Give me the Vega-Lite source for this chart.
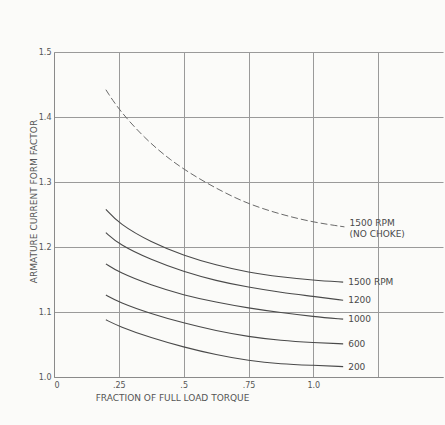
{
  "$schema": "https://vega.github.io/schema/vega-lite/v6.json",
  "width": 389,
  "height": 325,
  "autosize": {"type": "none"},
  "padding": {"left": 54, "top": 52, "right": 2, "bottom": 48},
  "background": "#fbfbf9",
  "config": {
    "view": {"stroke": null},
    "font": "DejaVu Sans",
    "axis": {"gridColor": "#9a9a9a", "gridOpacity": 1, "gridWidth": 1, "domainColor": "#8a8a8a", "ticks": false, "labelColor": "#555", "titleColor": "#555", "labelFont": "DejaVu Sans", "titleFont": "DejaVu Sans", "titleFontWeight": "normal"}
  },
  "datasets": {
    "curves": [
      {"series": "NC", "x": 0.2, "y": 1.442}, {"series": "NC", "x": 0.25, "y": 1.411}, {"series": "NC", "x": 0.35, "y": 1.367}, {"series": "NC", "x": 0.45, "y": 1.333}, {"series": "NC", "x": 0.55, "y": 1.307}, {"series": "NC", "x": 0.65, "y": 1.285}, {"series": "NC", "x": 0.75, "y": 1.266}, {"series": "NC", "x": 0.875, "y": 1.25}, {"series": "NC", "x": 1.0, "y": 1.238}, {"series": "NC", "x": 1.12, "y": 1.231},
      {"series": "1500", "x": 0.2, "y": 1.258}, {"series": "1500", "x": 0.25, "y": 1.236}, {"series": "1500", "x": 0.375, "y": 1.207}, {"series": "1500", "x": 0.5, "y": 1.187}, {"series": "1500", "x": 0.625, "y": 1.172}, {"series": "1500", "x": 0.75, "y": 1.161}, {"series": "1500", "x": 0.875, "y": 1.154}, {"series": "1500", "x": 1.0, "y": 1.149}, {"series": "1500", "x": 1.115, "y": 1.146},
      {"series": "1200", "x": 0.2, "y": 1.222}, {"series": "1200", "x": 0.25, "y": 1.204}, {"series": "1200", "x": 0.375, "y": 1.18}, {"series": "1200", "x": 0.5, "y": 1.162}, {"series": "1200", "x": 0.625, "y": 1.148}, {"series": "1200", "x": 0.75, "y": 1.138}, {"series": "1200", "x": 0.875, "y": 1.13}, {"series": "1200", "x": 1.0, "y": 1.124}, {"series": "1200", "x": 1.115, "y": 1.118},
      {"series": "1000", "x": 0.2, "y": 1.174}, {"series": "1000", "x": 0.25, "y": 1.161}, {"series": "1000", "x": 0.375, "y": 1.141}, {"series": "1000", "x": 0.5, "y": 1.126}, {"series": "1000", "x": 0.625, "y": 1.115}, {"series": "1000", "x": 0.75, "y": 1.106}, {"series": "1000", "x": 0.875, "y": 1.099}, {"series": "1000", "x": 1.0, "y": 1.093}, {"series": "1000", "x": 1.115, "y": 1.089},
      {"series": "600", "x": 0.2, "y": 1.126}, {"series": "600", "x": 0.25, "y": 1.115}, {"series": "600", "x": 0.375, "y": 1.097}, {"series": "600", "x": 0.5, "y": 1.083}, {"series": "600", "x": 0.625, "y": 1.071}, {"series": "600", "x": 0.75, "y": 1.062}, {"series": "600", "x": 0.875, "y": 1.056}, {"series": "600", "x": 1.0, "y": 1.053}, {"series": "600", "x": 1.115, "y": 1.051},
      {"series": "200", "x": 0.2, "y": 1.088}, {"series": "200", "x": 0.25, "y": 1.078}, {"series": "200", "x": 0.375, "y": 1.06}, {"series": "200", "x": 0.5, "y": 1.046}, {"series": "200", "x": 0.625, "y": 1.034}, {"series": "200", "x": 0.75, "y": 1.025}, {"series": "200", "x": 0.875, "y": 1.02}, {"series": "200", "x": 1.0, "y": 1.018}, {"series": "200", "x": 1.115, "y": 1.016}
    ],
    "labels": [
      {"label": "1500 RPM\n(NO CHOKE)", "x": 1.12, "y": 1.237},
      {"label": "1500 RPM", "x": 1.115, "y": 1.146},
      {"label": "1200", "x": 1.115, "y": 1.118},
      {"label": "1000", "x": 1.115, "y": 1.089},
      {"label": "600", "x": 1.115, "y": 1.051},
      {"label": "200", "x": 1.115, "y": 1.016}
    ]
  },
  "layer": [
    {
      "data": {"name": "curves"},
      "transform": [{"filter": "datum.series != 'NC'"}],
      "mark": {"type": "line", "interpolate": "basis", "color": "#4a4a4a", "strokeWidth": 1.1},
      "encoding": {
        "x": {"field": "x", "type": "quantitative", "scale": {"domain": [0, 1.5], "nice": false, "zero": false},
          "axis": {"values": [0, 0.25, 0.5, 0.75, 1.0, 1.25], "grid": true, "labelExpr": "datum.value == 0 ? '0' : datum.value == 0.25 ? '.25' : datum.value == 0.5 ? '.5' : datum.value == 0.75 ? '.75' : datum.value == 1 ? '1.0' : ''", "labelFontSize": 8, "labelPadding": 4,
            "title": "FRACTION OF FULL LOAD TORQUE", "titleFontSize": 9, "titleX": 118, "titleY": 20, "titleAnchor": null, "titleAlign": "center", "titleBaseline": "middle"}},
        "y": {"field": "y", "type": "quantitative", "scale": {"domain": [1.0, 1.5], "nice": false, "zero": false},
          "axis": {"values": [1.0, 1.1, 1.2, 1.3, 1.4, 1.5], "format": ".1f", "grid": true, "labelFontSize": 8, "labelPadding": 3,
            "title": "ARMATURE CURRENT FORM FACTOR", "titleFontSize": 9, "titleX": -21, "titleY": 149, "titleAngle": -90, "titleAlign": "center", "titleBaseline": "middle"}},
        "detail": {"field": "series"}
      }
    },
    {
      "data": {"name": "curves"},
      "transform": [{"filter": "datum.series == 'NC'"}],
      "mark": {"type": "line", "interpolate": "basis", "color": "#6a6a6a", "strokeWidth": 1, "strokeDash": [7, 3]},
      "encoding": {
        "x": {"field": "x", "type": "quantitative"},
        "y": {"field": "y", "type": "quantitative"}
      }
    },
    {
      "data": {"name": "labels"},
      "mark": {"type": "text", "align": "left", "baseline": "middle", "dx": 5, "fontSize": 9, "color": "#4a4a4a", "lineBreak": "\n", "lineHeight": 11},
      "encoding": {
        "x": {"field": "x", "type": "quantitative"},
        "y": {"field": "y", "type": "quantitative"},
        "text": {"field": "label"}
      }
    }
  ]
}
